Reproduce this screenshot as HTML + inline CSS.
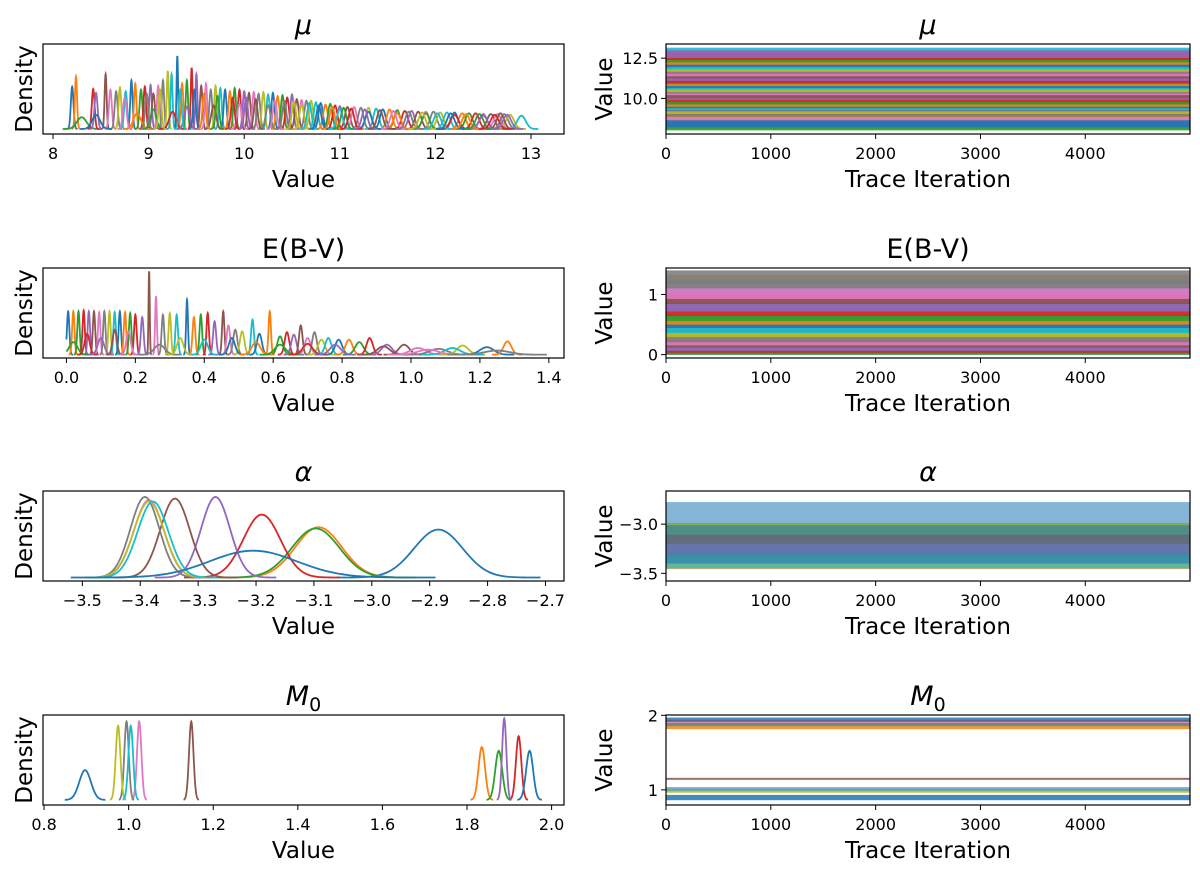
<!DOCTYPE html>
<html><head><meta charset="utf-8"><style>
html,body{margin:0;padding:0;background:#fff;}
svg{display:block;font-family:"DejaVu Sans","Liberation Sans",sans-serif;}
</style></head><body>
<svg id="fig" width="1200" height="874" viewBox="0 0 1200 874"></svg>
<script>
// ---------- data ----------
const mu_centers=[8.20,8.24,8.30,8.42,8.45,8.55,8.60,8.66,8.70,8.76,8.82,8.86,8.92,8.96,9.02,9.05,9.10,9.15,9.20,9.24,9.30,9.35,9.40,9.45,9.50,9.55,9.60,9.65,9.70,9.75,9.80,9.85,9.90,9.95,10.00,10.05,10.10,10.15,10.20,10.25,10.30,10.35,10.40,10.45,10.50,10.55,10.60,10.65,10.70,10.75,10.80,10.85,10.90,10.95,11.00,11.08,11.15,11.22,11.30,11.38,11.45,11.52,11.60,11.68,11.75,11.82,11.90,11.98,12.05,12.12,12.20,12.28,12.35,12.42,12.50,12.58,12.65,12.72,12.78,12.90,8.45,8.88,9.05,9.25,9.40,9.68,9.95,10.25,10.60,11.00,11.30,11.60,11.90,12.20,12.50,12.68,8.75,8.98,9.12,9.33,9.48,9.58,9.72,9.88,10.02,10.12,10.32,10.42,10.52,10.68,10.78,10.92,11.04,11.12,11.26,11.42,11.56,11.72,11.86,12.02,12.16,12.32,12.46,12.62,12.75];
const mu_peaks=[0.54,0.67,0.15,0.51,0.46,0.70,0.50,0.48,0.53,0.48,0.62,0.58,0.50,0.54,0.56,0.45,0.55,0.62,0.74,0.70,0.93,0.58,0.62,0.78,0.70,0.55,0.58,0.50,0.55,0.52,0.50,0.48,0.52,0.50,0.48,0.46,0.47,0.45,0.47,0.44,0.46,0.42,0.43,0.40,0.44,0.38,0.37,0.36,0.36,0.34,0.33,0.31,0.32,0.30,0.29,0.28,0.28,0.27,0.27,0.26,0.25,0.25,0.24,0.23,0.23,0.22,0.22,0.22,0.21,0.21,0.21,0.20,0.20,0.20,0.19,0.19,0.19,0.19,0.18,0.17,0.18,0.20,0.25,0.22,0.28,0.30,0.32,0.30,0.30,0.25,0.22,0.20,0.20,0.18,0.17,0.20,0.40,0.45,0.50,0.50,0.50,0.45,0.42,0.40,0.40,0.38,0.36,0.36,0.35,0.33,0.30,0.28,0.27,0.26,0.25,0.24,0.23,0.22,0.21,0.20,0.20,0.19,0.19,0.18,0.18];
const ebv_centers=[0.005,0.02,0.035,0.05,0.065,0.08,0.095,0.11,0.125,0.14,0.155,0.17,0.185,0.20,0.22,0.24,0.26,0.28,0.30,0.32,0.35,0.37,0.39,0.41,0.43,0.455,0.47,0.49,0.51,0.54,0.56,0.59,0.62,0.64,0.66,0.68,0.70,0.72,0.74,0.76,0.79,0.82,0.85,0.88,0.93,0.98,1.02,1.08,1.15,1.12,1.22,1.28,0.02,0.06,0.10,0.14,0.18,0.27,0.33,0.40,0.48,0.55,0.62,0.70,0.78,0.92,1.05,1.25];
const ebv_peaks=[0.52,0.52,0.52,0.53,0.52,0.52,0.51,0.52,0.52,0.51,0.52,0.51,0.50,0.48,0.45,1.00,0.70,0.48,0.50,0.48,0.66,0.45,0.48,0.50,0.40,0.52,0.35,0.30,0.28,0.42,0.25,0.52,0.22,0.27,0.24,0.35,0.20,0.27,0.18,0.20,0.18,0.18,0.15,0.20,0.12,0.12,0.08,0.07,0.11,0.08,0.09,0.16,0.15,0.25,0.20,0.30,0.28,0.12,0.20,0.18,0.20,0.15,0.12,0.13,0.12,0.10,0.06,0.05];
const alpha_centers=[-2.885,-3.092,-3.097,-3.19,-3.27,-3.34,-3.385,-3.392,-3.385,-3.378,-3.205];
const alpha_sd=[0.042,0.040,0.041,0.032,0.025,0.0255,0.026,0.025,0.0265,0.0265,0.075];
const m0_centers=[0.897,1.835,1.875,1.922,1.888,1.148,1.025,0.995,0.975,1.005,1.948];
const m0_sd=[0.0137,0.0077,0.0083,0.0064,0.0050,0.0052,0.0052,0.0052,0.0055,0.0055,0.0083];
const xticks_mu=[8,9,10,11,12,13];
const xticks_ebv=[0.0,0.2,0.4,0.6,0.8,1.0,1.2,1.4];
const xticks_alpha=[-3.5,-3.4,-3.3,-3.2,-3.1,-3.0,-2.9,-2.8,-2.7];
const xticks_m0=[0.8,1.0,1.2,1.4,1.6,1.8,2.0];
const iter_ticks=[0,1000,2000,3000,4000];
const yticks_mu=[10.0,12.5];
const yticks_ebv=[0,1];
const yticks_alpha=[-3.5,-3.0];
const yticks_m0=[1,2];
// ---------- drawing ----------
const NS='http://www.w3.org/2000/svg';
const svg=document.getElementById('fig');
const colors=['#1f77b4','#ff7f0e','#2ca02c','#d62728','#9467bd','#8c564b','#e377c2','#7f7f7f','#bcbd22','#17becf'];
function mk(tag,attrs,parent){const e=document.createElementNS(NS,tag);for(const k in attrs)e.setAttribute(k,attrs[k]);(parent||svg).appendChild(e);return e;}
const LX=[43,564],RX=[666,1190],TOPS=[44,268,491,715],H=90;
function fmt(v,d){const s=v.toFixed(d);return s.replace('-','\u2212');}

function axesFrame(name,x0,x1,top,xticks,xd,xs,ylab,xlab){
  const g=mk('g',{});
  
  
  const bot=top+H;
  xticks.forEach(t=>{const x=xs(t);
    const tl=mk('line',{x1:x,x2:x,y1:bot,y2:bot+5,stroke:'#000','stroke-width':1},g);
    
    
    const tx=mk('text',{x:x,y:bot+25,'text-anchor':'middle','font-size':16},g);
    
    
    tx.textContent=fmt(t,xd);});
  const xl=mk('text',{x:(x0+x1)/2,y:bot+53,'text-anchor':'middle','font-size':23},g);
  
  
  xl.textContent=xlab;
  const yl=mk('text',{x:0,y:0,'text-anchor':'middle','font-size':23,transform:'translate('+(x0-(ylab==='Density'?11:54))+','+(top+H/2)+') rotate(-90)'},g);
  
  
  yl.textContent=ylab;
  return g;
}
function title(x0,x1,top,parts){
  const t=mk('text',{x:(x0+x1)/2,y:top-10,'text-anchor':'middle','font-size':27});
  
  
  parts.forEach(p=>{const s=mk('tspan',p.attr||{},t);s.textContent=p.t;});
}
function box(name,x0,x1,top){
  const r=mk('rect',{x:x0,y:top,width:x1-x0,height:H,fill:'none',stroke:'#000','stroke-width':1.2});
  
  
}
let clipId=0;
function clip(x0,x1,top){const id='c'+(clipId++);const c=mk('clipPath',{id:id});mk('rect',{x:x0,y:top,width:x1-x0,height:H},c);return 'url(#'+id+')';}

function kdePanel(name,i,xlim,ylim,centers,sds,peaks,lo,span,xticks,xd,titleParts){
  const top=TOPS[i],bot=top+H;
  const xs=v=>LX[0]+(v-xlim[0])/(xlim[1]-xlim[0])*(LX[1]-LX[0]);
  const ys=v=>bot-(v-ylim[0])/(ylim[1]-ylim[0])*H;
  title(LX[0],LX[1],top,titleParts);
  const g=mk('g',{'clip-path':clip(LX[0],LX[1],top)});
  
  
  centers.forEach((c,k)=>{
    const s=sds[k],p=peaks[k];
    let a=c-span*s,b=c+span*s; if(lo!==null&&a<lo)a=lo;
    let d='';
    for(let j=0;j<=60;j++){const x=a+(b-a)*j/60;const z=(x-c)/s;const y=p*Math.exp(-0.5*z*z);
      d+=(j?'L':'M')+xs(x).toFixed(2)+','+ys(y).toFixed(2);}
    const pa=mk('path',{d:d,fill:'none',stroke:colors[k%10],'stroke-width':1.8},g);
    
    
  });
  box(name+'-density',LX[0],LX[1],top);
  axesFrame(name+'-density',LX[0],LX[1],top,xticks,xd,xs,'Density','Value');
}
function tracePanel(name,i,ylim,centers,sds,lo,op,yticks,yd,titleParts){
  const top=TOPS[i],bot=top+H;
  const xs=v=>RX[0]+v/4999*(RX[1]-RX[0]);
  const ys=v=>bot-(v-ylim[0])/(ylim[1]-ylim[0])*H;
  title(RX[0],RX[1],top,titleParts);
  const g=mk('g',{'clip-path':clip(RX[0],RX[1],top)});
  
  
  centers.forEach((c,k)=>{
    const s=sds[k];let a=c-2.6*s,b=c+2.6*s;if(lo!==null&&a<lo)a=lo;
    let y1=ys(b),y2=ys(a);if(y2-y1<1.6){const m=(y1+y2)/2;y1=m-0.8;y2=m+0.8;}
    const r=mk('rect',{x:xs(0),y:y1,width:xs(4999)-xs(0),height:y2-y1,fill:colors[k%10],opacity:op},g);
    
    
  });
  box(name+'-trace',RX[0],RX[1],top);
  const ga=axesFrame(name+'-trace',RX[0],RX[1],top,iter_ticks,0,xs,'Value','Trace Iteration');
  yticks.forEach(t=>{const y=ys(t);
    const tl=mk('line',{x1:RX[0]-5,x2:RX[0],y1:y,y2:y,stroke:'#000','stroke-width':1},ga);
    
    
    const tx=mk('text',{x:RX[0]-8,y:y+6,'text-anchor':'end','font-size':16},ga);
    
    
    tx.textContent=fmt(t,yd);});
}
const mu_sd=mu_peaks.map(p=>0.0075/p);
const ebv_sd=ebv_peaks.map(p=>0.0018/p);
const alpha_peaks=alpha_sd.map(s=>0.0233/s);
const m0_peaks=m0_sd.map(s=>0.0048/s);
const T_mu=[{t:'\u03bc',attr:{'font-style':'italic'}}];
const T_ebv=[{t:'E(B-V)'}];
const T_alpha=[{t:'\u03b1',attr:{'font-style':'italic'}}];
const T_m0=[{t:'M',attr:{'font-style':'italic'}},{t:'0',attr:{'font-size':19,dy:6}}];
kdePanel('mu',0,[7.895,13.345],[-0.064,1.083],mu_centers,mu_sd,mu_peaks,null,4,xticks_mu,0,T_mu);
kdePanel('ebv',1,[-0.068,1.444],[-0.04,1.04],ebv_centers,ebv_sd,ebv_peaks,0,4,xticks_ebv,1,T_ebv);
kdePanel('alpha',2,[-3.568,-2.668],[-0.04,1.0],alpha_centers,alpha_sd,alpha_peaks,null,4.2,xticks_alpha,1,T_alpha);
kdePanel('m0',3,[0.7975,2.0293],[-0.06,1.0],m0_centers,m0_sd,m0_peaks,null,3.5,xticks_m0,1,T_m0);
tracePanel('mu',0,[7.79,13.38],mu_centers,mu_sd.map(s=>s*2.2),null,0.9,yticks_mu,1,T_mu);
tracePanel('ebv',1,[-0.056,1.44],ebv_centers,ebv_sd.map(s=>s*1.6),0,0.9,yticks_ebv,0,T_ebv);
tracePanel('alpha',2,[-3.578,-2.663],alpha_centers,alpha_sd,null,0.55,yticks_alpha,1,T_alpha);
tracePanel('m0',3,[0.797,2.004],m0_centers,m0_sd,null,0.85,yticks_m0,0,T_m0);
</script>
</body></html>
